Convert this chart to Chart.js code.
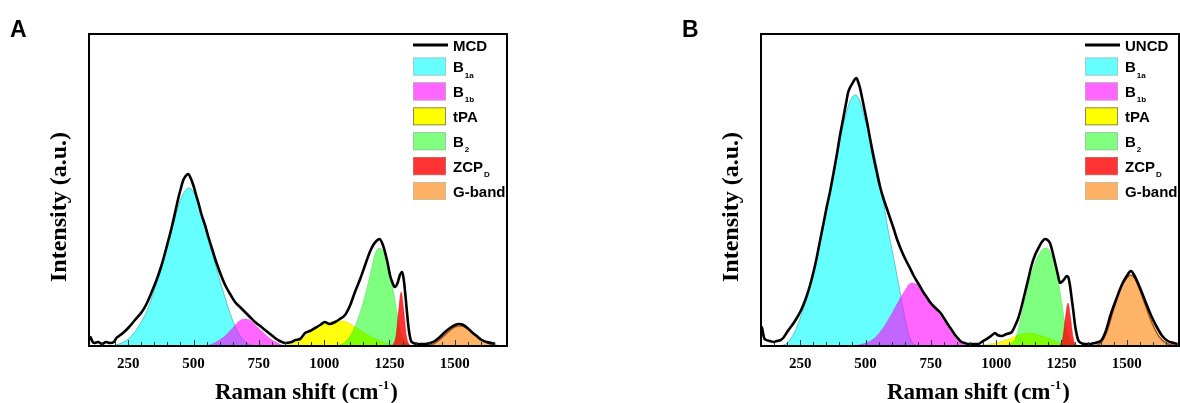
<!DOCTYPE html>
<html>
<head>
<meta charset="utf-8">
<script src="https://cdn.jsdelivr.net/npm/chart.js@4.4.0/dist/chart.umd.min.js"></script>
<style>
  body { margin: 0; background: #fff; width: 1180px; height: 403px; overflow: hidden; position: relative; }
  canvas { position: absolute; top: 0; }
  #chartA { left: 0; }
  #chartB { left: 590px; }
</style>
</head>
<body>
<canvas id="chartA" width="590" height="403"></canvas>
<canvas id="chartB" width="590" height="403"></canvas>
<script>
// x axis (Raman shift, cm-1)
const shiftMin = 100;
const shiftMax = 1700;
const shiftTicks = [250, 500, 750, 1000, 1250, 1500];
const intensityMax = 312;

// band names: [main text, subscript]
const bandLabels = [['B', '1a'], ['B', '1b'], ['tPA', ''], ['B', '2'], ['ZCP', 'D'], ['G-band', '']];

// ---- MCD film, [shift, intensity] ----
const mcdSpectrum = [
  [100,6],[106,9],[112,5],[120,3],[135,4],[150,2],[165,4],[180,3],[195,4],[205,8],[215,10],[230,13],
  [250,18],[276,26],[302,34],[320,42],[340,54],[360,67],[378,81],[400,102],[416,118],[430,134],
  [442,148],[452,158],[461,166],[470,170],[480,172],[489,168],[499,161],[510,151],[518,144],[530,132],
  [544,121],[557,109],[570,98],[583,87],[595,78],[608,69],[621,61],[640,52],[659,44],[678,39],
  [697,34],[716,29],[735,24],[755,20],[774,16],[793,12],[812,8],[830,5],[850,3],[875,4],[890,6],
  [908,7],[927,13],[945,15],[965,18],[985,21],[1003,24],[1020,22],[1042,24],[1060,27],[1080,31],
  [1100,41],[1118,54],[1138,67],[1157,81],[1175,94],[1188,101],[1200,105],[1212,107],[1222,103],
  [1233,94],[1243,83],[1252,71],[1262,63],[1271,59],[1281,63],[1290,71],[1299,74],[1305,66],
  [1310,54],[1316,37],[1322,21],[1328,10],[1335,4],[1360,2],[1386,2],[1405,3],[1424,5],[1443,9],
  [1463,14],[1482,18],[1501,21],[1517,22],[1533,21],[1549,18],[1565,14],[1584,10],[1603,6],
  [1622,4],[1641,3],[1655,2]
];
const mcdB1a = [
  [200,1],[225,3],[250,7],[275,14],[300,24],[325,37],[350,56],[375,76],[400,99],[425,124],[450,146],
  [465,154],[480,158],[500,154],[520,140],[545,117],[570,94],[595,71],[620,49],[645,29],[670,14],
  [695,5],[720,1],[745,0]
];
const mcdB1b = [
  [540,0],[560,1],[580,3],[600,6],[625,11],[650,18],[675,25],[695,27],[715,26],[740,20],[765,14],
  [790,8],[815,4],[840,1],[860,0]
];
const mcdTPA = [
  [840,0],[870,2],[900,5],[925,9],[950,14],[975,19],[1000,22],[1025,24],[1050,25],[1075,25],
  [1100,22],[1125,18],[1150,14],[1175,10],[1200,7],[1225,4],[1250,2],[1275,1],[1300,0]
];
const mcdB2 = [
  [1050,0],[1075,3],[1100,10],[1125,24],[1150,44],[1175,70],[1195,92],[1210,98],[1225,95],
  [1240,86],[1250,76],[1265,55],[1275,40],[1290,17],[1300,8],[1320,2],[1340,0]
];
const mcdZCP = [[1262,0],[1275,10],[1285,35],[1295,54],[1305,35],[1315,10],[1328,0]];
const mcdG = [
  [1380,0],[1400,1],[1425,3],[1450,8],[1475,14],[1500,19],[1525,20],[1550,17],[1575,12],
  [1600,7],[1625,3],[1650,1],[1670,0]
];

// ---- UNCD film, [shift, intensity] ----
const uncdSpectrum = [
  [100,12],[103,19],[107,14],[112,8],[120,6],[134,5],[150,4],[160,5],[175,6],[185,8],[200,14],
  [211,18],[225,23],[237,28],[250,34],[262,41],[275,50],[288,61],[300,73],[313,88],[325,104],
  [338,121],[350,137],[364,154],[377,172],[390,191],[402,210],[415,228],[425,242],[434,254],
  [444,260],[453,264],[460,267],[466,268],[472,264],[479,258],[488,247],[498,234],[508,221],
  [517,208],[530,190],[543,174],[555,160],[568,148],[581,138],[594,128],[607,118],[619,108],
  [632,99],[645,91],[658,84],[670,78],[683,71],[696,65],[708,60],[721,54],[734,49],[747,44],
  [760,40],[772,37],[787,33],[800,28],[817,21],[830,16],[843,11],[856,7],[868,4],[880,3],
  [894,2],[915,2],[932,2],[945,4],[957,6],[975,9],[990,12],[996,13],[1005,11],[1021,10],
  [1040,12],[1060,14],[1072,20],[1085,28],[1098,40],[1111,54],[1124,68],[1136,81],[1149,91],
  [1162,98],[1175,104],[1187,107],[1197,106],[1206,103],[1215,95],[1225,84],[1235,73],[1245,63],
  [1255,65],[1264,68],[1270,70],[1276,69],[1283,60],[1289,48],[1296,34],[1302,21],[1308,12],
  [1314,6],[1325,3],[1340,2],[1360,2],[1378,3],[1392,4],[1404,6],[1420,15],[1438,31],[1460,47],
  [1481,61],[1500,70],[1516,75],[1530,70],[1551,58],[1572,44],[1594,30],[1615,19],[1636,10],
  [1657,5],[1679,3],[1695,2]
];
const uncdB1a = [
  [175,0],[200,3],[225,12],[250,28],[275,48],[300,72],[325,103],[350,135],[375,168],[400,202],
  [425,232],[445,247],[460,251],[475,247],[498,226],[511,215],[537,188],[562,154],[588,114],
  [613,81],[632,54],[651,28],[670,8],[690,1],[710,0]
];
const uncdB1b = [
  [450,0],[475,1],[500,3],[525,6],[550,12],[575,21],[600,32],[625,44],[650,55],[675,63],[700,61],
  [725,53],[750,44],[775,34],[800,25],[825,15],[850,6],[875,2],[900,0]
];
const uncdTPA = [
  [925,0],[950,1],[975,2],[1000,3],[1025,5],[1050,7],[1075,10],[1100,12],[1125,13],[1150,12],
  [1175,10],[1200,8],[1225,5],[1250,3],[1275,1],[1300,0]
];
const uncdB2 = [
  [1040,0],[1060,3],[1075,8],[1100,34],[1125,63],[1150,84],[1175,96],[1190,98],[1200,97],
  [1212,91],[1232,74],[1251,44],[1264,22],[1276,11],[1290,4],[1310,1],[1325,0]
];
const uncdZCP = [[1245,0],[1255,8],[1265,28],[1275,43],[1285,28],[1295,8],[1305,0]];
const uncdG = [
  [1370,0],[1400,3],[1425,15],[1450,37],[1475,57],[1500,68],[1515,71],[1530,68],[1550,56],
  [1575,38],[1600,21],[1625,9],[1650,3],[1675,1],[1700,0]
];

// fill colours are translucent so overlapping bands mix
const bandFill = ['rgba(0,255,255,0.6)', 'rgba(255,0,255,0.6)', 'rgba(255,255,0,0.95)',
  'rgba(0,255,0,0.5)', 'rgba(255,0,0,0.8)', 'rgba(255,128,0,0.6)'];
const bandEdge = ['rgba(0,150,150,0.5)', 'rgba(200,0,200,0.25)', 'rgba(200,200,0,0.4)',
  'rgba(0,180,0,0.25)', 'rgba(200,0,0,0.4)', '#a8581c'];
const bandEdgeWidth = [1, 1, 1, 1, 1, 1.6];
const legendFill = ['#66ffff', '#ff66ff', '#ffff00', '#80ff80', '#ff3333', '#ffb266'];
const legendEdge = ['#9cc', '#c9c', '#886', '#9c9', '#c66', '#cb9'];

const serif = '"Liberation Serif", "Times New Roman", serif';
const sans = '"Liberation Sans", Arial, sans-serif';

function toXY(pts) {
  return pts.map(p => ({ x: p[0], y: p[1] }));
}

function makeDatasets(spectrum, bands) {
  const sets = bands.map((pts, i) => ({
    data: toXY(pts),
    backgroundColor: bandFill[i],
    borderColor: bandEdge[i],
    borderWidth: bandEdgeWidth[i],
    fill: 'origin',
    order: bands.length - i,
    pointRadius: 0,
    cubicInterpolationMode: 'monotone'
  }));
  sets.push({
    data: toXY(spectrum),
    borderColor: '#000',
    borderWidth: 2.6,
    fill: false,
    order: 0,
    pointRadius: 0,
    cubicInterpolationMode: 'monotone'
  });
  return sets;
}

// frame, inward ticks, titles, panel letter and legend
function panelDecor(letter, sampleName) {
  return {
    id: 'panelDecor',
    afterDraw(chart) {
      const ctx = chart.ctx;
      const a = chart.chartArea;
      const xs = chart.scales.x;
      ctx.save();

      // inward ticks along the bottom
      ctx.strokeStyle = '#1a4040';
      ctx.lineWidth = 1;
      for (let v = 150; v < shiftMax; v += 50) {
        const px = Math.round(xs.getPixelForValue(v)) + 0.5;
        const len = v % 250 === 0 ? 6 : 4;
        ctx.beginPath();
        ctx.moveTo(px, a.bottom);
        ctx.lineTo(px, a.bottom - len);
        ctx.stroke();
      }

      // plot frame
      ctx.strokeStyle = '#000';
      ctx.lineWidth = 2;
      ctx.strokeRect(a.left, a.top, a.right - a.left, a.bottom - a.top);

      // x title with superscript
      ctx.fillStyle = '#000';
      ctx.textBaseline = 'alphabetic';
      const mainFont = 'bold 23px ' + serif;
      const supFont = 'bold 13px ' + serif;
      ctx.font = mainFont;
      const w1 = ctx.measureText('Raman shift (cm').width;
      const w3 = ctx.measureText(')').width;
      ctx.font = supFont;
      const w2 = ctx.measureText('-1').width;
      let tx = (a.left + a.right) / 2 + 8 - (w1 + w2 + w3) / 2;
      ctx.font = mainFont;
      ctx.fillText('Raman shift (cm', tx, 399);
      ctx.font = supFont;
      ctx.fillText('-1', tx + w1, 389);
      ctx.font = mainFont;
      ctx.fillText(')', tx + w1 + w2 + 1, 399);

      // y title
      ctx.save();
      ctx.translate(a.left - 29, 207);
      ctx.rotate(-Math.PI / 2);
      ctx.font = 'bold 24px ' + serif;
      ctx.textAlign = 'center';
      ctx.textBaseline = 'middle';
      ctx.fillText('Intensity (a.u.)', 0, 0);
      ctx.restore();

      // panel letter
      ctx.font = 'bold 23px ' + sans;
      ctx.textAlign = 'left';
      ctx.fillText(letter, a.left - 79, 37);

      // legend
      const bx = a.right - 94;
      const textX = a.right - 54;
      ctx.strokeStyle = '#000';
      ctx.lineWidth = 3;
      ctx.beginPath();
      ctx.moveTo(bx, a.top + 11);
      ctx.lineTo(bx + 35, a.top + 11);
      ctx.stroke();
      ctx.font = 'bold 15px ' + sans;
      ctx.fillText(sampleName, textX, a.top + 16.5);

      bandLabels.forEach((lab, i) => {
        const cy = a.top + 32.5 + i * 24.9;
        ctx.fillStyle = legendFill[i];
        ctx.fillRect(bx, cy - 9, 33, 18);
        ctx.strokeStyle = legendEdge[i];
        ctx.lineWidth = 1;
        ctx.strokeRect(bx + 0.5, cy - 8.5, 32, 17);
        ctx.fillStyle = '#000';
        ctx.font = 'bold 15px ' + sans;
        ctx.fillText(lab[0], textX, cy + 5.5);
        if (lab[1]) {
          const mw = ctx.measureText(lab[0]).width;
          ctx.font = 'bold 8px ' + sans;
          ctx.fillText(lab[1], textX + mw + 1, cy + 11);
        }
      });

      ctx.restore();
    }
  };
}

function buildChart(id, spectrum, bands, letter, sampleName, padLeft, padRight) {
  return new Chart(document.getElementById(id), {
    type: 'line',
    data: { datasets: makeDatasets(spectrum, bands) },
    options: {
      responsive: false,
      animation: false,
      devicePixelRatio: 1,
      layout: { padding: { left: padLeft, right: padRight, top: 34, bottom: 0 } },
      plugins: { legend: { display: false }, tooltip: { enabled: false } },
      scales: {
        x: {
          type: 'linear',
          min: shiftMin,
          max: shiftMax,
          grid: { display: false },
          border: { display: false },
          afterBuildTicks: s => { s.ticks = shiftTicks.map(v => ({ value: v })); },
          afterFit: s => { s.height = 57; },
          ticks: {
            color: '#000',
            padding: 1,
            maxRotation: 0,
            callback: v => String(v),
            font: { family: serif, weight: 'bold', size: 15 }
          }
        },
        y: {
          display: false,
          min: 0,
          max: intensityMax
        }
      }
    },
    plugins: [panelDecor(letter, sampleName)]
  });
}

buildChart('chartA', mcdSpectrum, [mcdB1a, mcdB1b, mcdTPA, mcdB2, mcdZCP, mcdG], 'A', 'MCD', 89, 83);
buildChart('chartB', uncdSpectrum, [uncdB1a, uncdB1b, uncdTPA, uncdB2, uncdZCP, uncdG], 'B', 'UNCD', 171, 1);
</script>
</body>
</html>
